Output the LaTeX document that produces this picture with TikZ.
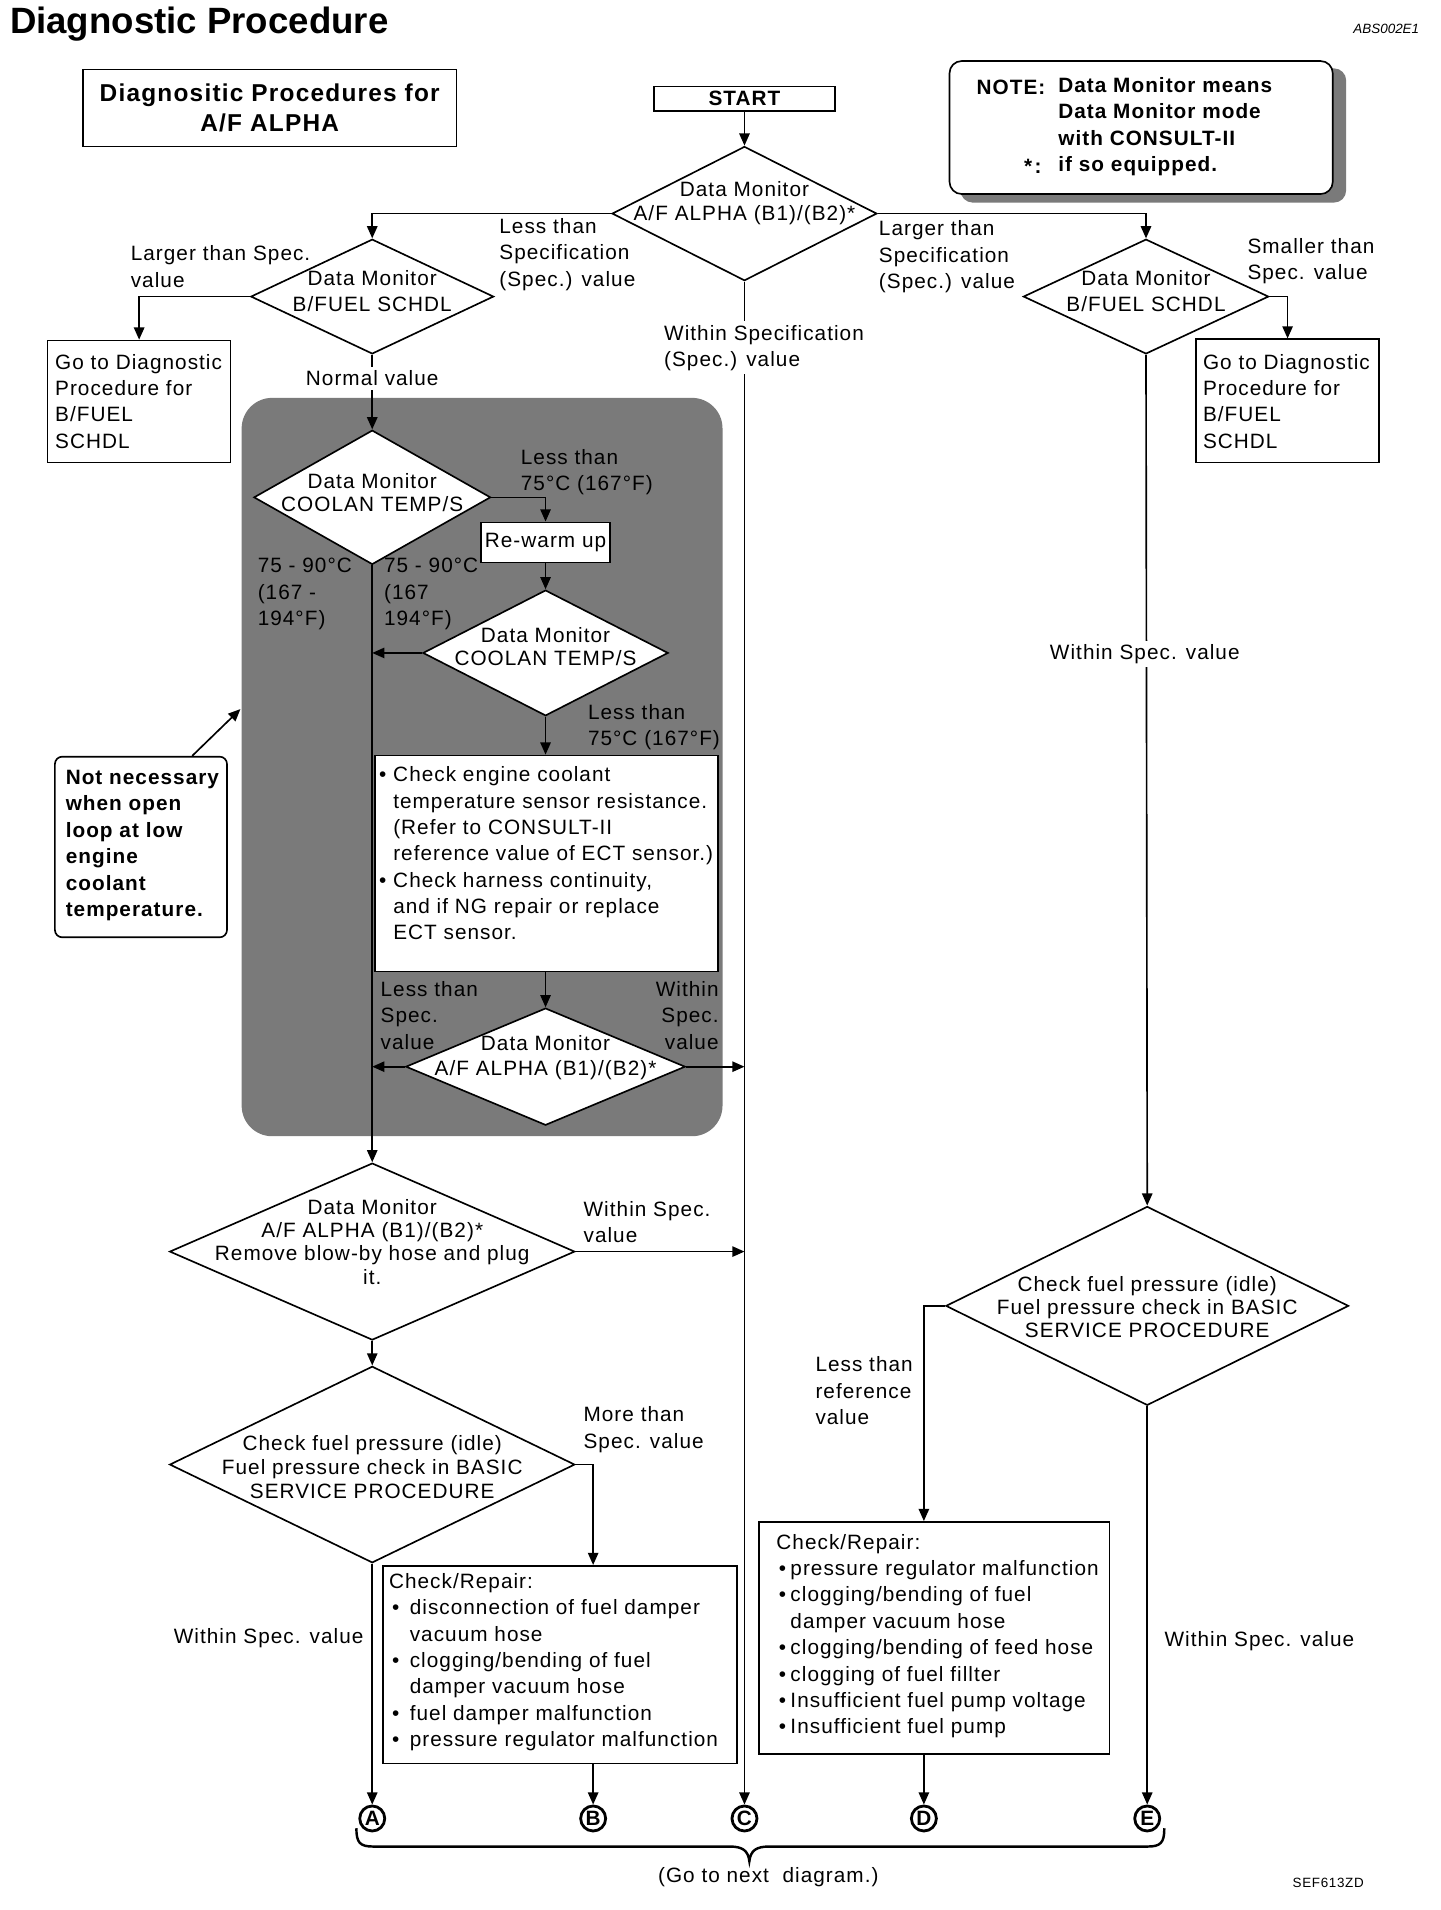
\documentclass[tikz,border=0pt]{standalone}
\usepackage{fontspec}
\setmainfont{Liberation Sans}[LetterSpace=5]
\newfontfamily\plainsans{Liberation Sans}
\usetikzlibrary{arrows.meta,shapes.geometric}
\newcommand\fbody{\fontsize{17}{21.6}\selectfont}
\newcommand\fdia{\fontsize{17}{19.2}\selectfont}
\begin{document}
\begin{tikzpicture}[x=1pt,y=-1pt,
  conn/.style={line width=1.35pt},
  arr/.style={conn,-{Triangle[length=10pt,width=8.5pt]}},
  dia/.style={diamond,draw,line width=1.35pt,fill=white,inner sep=0pt},
  bx/.style={rectangle,draw,line width=1.35pt,fill=white,inner sep=0pt},
  lbl/.style={inner sep=0pt,align=left,font=\fbody,anchor=west},
  dtxt/.style={inner sep=0pt,align=center,font=\fdia},
  circ/.style={circle,draw,line width=2.3pt,minimum size=20.5pt,inner sep=0pt,font=\plainsans\bfseries\fontsize{17}{17}\selectfont},
  hatchfill/.style={fill=black!52}]
\useasboundingbox (0,0) rectangle (1180,1565);
\fill[white] (0,0) rectangle (1180,1565);

% shaded region and note shadow
\fill[hatchfill, rounded corners=25pt] (198,326) rectangle (592,931);
\fill[hatchfill, rounded corners=10pt] (787,56) rectangle (1103,166);

% title
\node[anchor=west, inner sep=0pt, font=\plainsans\bfseries\fontsize{30}{36}\selectfont] (title) at (8,19.5) {Diagnostic Procedure};
\node[anchor=east, inner sep=0pt, font=\plainsans\itshape\fontsize{11}{13}\selectfont] (abs) at (1163,24) {ABS002E1};

\node[bx, minimum width=306pt, minimum height=63pt, align=center, font=\bfseries\fontsize{20}{24.5}\selectfont] (tbox) at (221,88.5) {Diagnositic Procedures for\\A/F ALPHA};
\node[bx, minimum width=148pt, minimum height=20pt, font=\bfseries\fontsize{17}{20}\selectfont] (start) at (610,81) {START};

% note
\node[bx, rounded corners=10pt, minimum width=314pt, minimum height=109pt] (note) at (935,104.5) {};
\node[lbl, font=\bfseries\fbody] (noteh) at (800,71.6) {NOTE:};
\node[lbl, font=\bfseries\fontsize{17}{21.4}\selectfont] (notet) at (867,103.75) {Data Monitor means\\Data Monitor mode\\with CONSULT-II\\if so equipped.};
\node[lbl, font=\bfseries\fbody] (notes) at (839,136) {*\kern2pt:};

% diamonds and boxes
\node[dia, minimum width=217pt, minimum height=110pt] (d1) at (610,175) {};
\node[dtxt] (d1t) at (610,166.5) {Data Monitor\\A/F ALPHA (B1)/(B2)*};
\node[dia, minimum width=199pt, minimum height=94pt] (d2) at (305,243) {};
\node[dtxt, font=\fontsize{17}{21}\selectfont] (d2t) at (305,238.5) {Data Monitor\\B/FUEL SCHDL};
\node[dia, minimum width=201pt, minimum height=94pt] (d3) at (939,243) {};
\node[dtxt, font=\fontsize{17}{21}\selectfont] (d3t) at (939,238.5) {Data Monitor\\B/FUEL SCHDL};

\node[bx, minimum width=150pt, minimum height=100pt] (goL) at (114,329) {};
\node[lbl] (goLt) at (45,328.7) {Go to Diagnostic\\Procedure for\\B/FUEL\\SCHDL};
\node[bx, minimum width=150pt, minimum height=101pt] (goR) at (1055,328.5) {};
\node[lbl] (goRt) at (985.5,328.7) {Go to Diagnostic\\Procedure for\\B/FUEL\\SCHDL};

\node[dia, minimum width=194pt, minimum height=110pt] (d4) at (305,407.5) {};
\node[dtxt] (d4t) at (305,403.5) {Data Monitor\\COOLAN TEMP/S};
\node[bx, minimum width=106pt, minimum height=33pt, font=\fbody] (rw) at (447,444.5) {Re-warm up};
\node[dia, minimum width=201pt, minimum height=103pt] (d5) at (447,535) {};
\node[dtxt] (d5t) at (447,530) {Data Monitor\\COOLAN TEMP/S};
\node[bx, minimum width=281pt, minimum height=177pt] (ect) at (448,707.5) {};
\node[lbl] (ectt) at (310.5,699.2) {•\ Check engine coolant\\
\hphantom{•\ }temperature sensor resistance.\\
\hphantom{•\ }(Refer to CONSULT-II\\
\hphantom{•\ }reference value of ECT sensor.)\\
•\ Check harness continuity,\\
\hphantom{•\ }and if NG repair or replace\\
\hphantom{•\ }ECT sensor.};
\node[dia, minimum width=229pt, minimum height=96pt] (d6) at (447,874) {};
\node[dtxt, font=\fontsize{17}{20.5}\selectfont] (d6t) at (447,866.5) {Data Monitor\\A/F ALPHA (B1)/(B2)*};

\node[dia, minimum width=332pt, minimum height=145pt] (d8) at (305,1025.5) {};
\node[dtxt] (d8t) at (305,1017.5) {Data Monitor\\A/F ALPHA (B1)/(B2)*\\Remove blow-by hose and plug\\it.};
\node[dia, minimum width=332pt, minimum height=161pt] (d9) at (305,1200) {};
\node[dtxt, font=\fontsize{17}{19.8}\selectfont] (d9t) at (305,1202) {Check fuel pressure (idle)\\Fuel pressure check in BASIC\\SERVICE PROCEDURE};
\node[dia, minimum width=330pt, minimum height=163pt] (d7) at (940,1070) {};
\node[dtxt] (d7t) at (940,1071) {Check fuel pressure (idle)\\Fuel pressure check in BASIC\\SERVICE PROCEDURE};

\node[bx, minimum width=290pt, minimum height=162pt] (boxB) at (459,1364) {};
\node[lbl] (boxBt) at (318.6,1362) {Check/Repair:\\
\makebox[17pt][l]{\hspace{2.5pt}•}disconnection of fuel damper\\
\hspace*{17pt}vacuum hose\\
\makebox[17pt][l]{\hspace{2.5pt}•}clogging/bending of fuel\\
\hspace*{17pt}damper vacuum hose\\
\makebox[17pt][l]{\hspace{2.5pt}•}fuel damper malfunction\\
\makebox[17pt][l]{\hspace{2.5pt}•}pressure regulator malfunction};
\node[bx, minimum width=287pt, minimum height=190pt] (boxD) at (765.5,1342) {};
\node[lbl] (boxDt) at (636,1340.6) {Check/Repair:\\
\makebox[11.5pt][l]{\hspace{2pt}•}pressure regulator malfunction\\
\makebox[11.5pt][l]{\hspace{2pt}•}clogging/bending of fuel\\
\hspace*{11.5pt}damper vacuum hose\\
\makebox[11.5pt][l]{\hspace{2pt}•}clogging/bending of feed hose\\
\makebox[11.5pt][l]{\hspace{2pt}•}clogging of fuel fillter\\
\makebox[11.5pt][l]{\hspace{2pt}•}Insufficient fuel pump voltage\\
\makebox[11.5pt][l]{\hspace{2pt}•}Insufficient fuel pump};

\node[bx, rounded corners=6pt, minimum width=141pt, minimum height=148pt] (nn) at (115.5,694) {};
\node[lbl, font=\bfseries\fontsize{17}{21.6}\selectfont] (nnt) at (53.7,692.8) {Not necessary\\when open\\loop at low\\engine\\coolant\\temperature.};

% connectors (circles)
\node[circ] (A) at (305,1490) {A};
\node[circ] (B) at (486,1490) {B};
\node[circ] (C) at (610,1490) {C};
\node[circ] (D) at (757,1490) {D};
\node[circ] (E) at (940,1490) {E};

% connections
\draw[arr] (start.south) -- (d1.north);
\draw[arr] (d1.west) -| (d2.north);
\draw[arr] (d2.west) -| (goL.north);
\draw[arr] (d1.east) -| (d3.north);
\draw[arr] (d3.east) -| (goR.north);
\draw[arr] (d1.south) -- (C.north);
\draw[arr] (d3.south) -- (d7.north);
\draw[arr] (d2.south) -- (d4.north);
\draw[arr] (d4.east) -| (rw.north);
\draw[arr] (rw.south) -- (d5.north);
\draw[arr] (d5.west) -- (d5.west -| d4.south);
\draw[arr] (d5.south) -- (d5.south |- ect.north);
\draw[arr] (d6.north |- ect.south) -- (d6.north);
\draw[arr] (d6.west) -- (d6.west -| d4.south);
\draw[arr] (d6.east) -- (d6.east -| C.north);
\draw[arr] (d4.south) -- (d8.north);
\draw[arr] (d8.east) -- (d8.east -| C.north);
\draw[arr] (d8.south) -- (d9.north);
\draw[arr] (d9.east) -| (B.north |- boxB.north);
\draw[arr] (boxB.south -| B.north) -- (B.north);
\draw[arr] (d9.south) -- (A.north);
\draw[arr] (d7.west) -| (D.north |- boxD.north);
\draw[arr] (boxD.south -| D.north) -- (D.north);
\draw[arr] (d7.south) -- (E.north);
\coordinate (nnend) at (197,581);
\draw[arr] ([xshift=42pt]nn.north) -- (nnend);

% brace
\draw[line width=2pt] (292,1498) .. controls (292,1510) and (295,1513) .. (306,1513) -- (598,1513) .. controls (608,1513) and (613,1516) .. (614,1525) .. controls (615,1516) and (620,1513) .. (630,1513) -- (940,1513) .. controls (951,1513) and (954,1510) .. (954,1498);

% labels
\node[lbl] (l1) at (409,208.5) {Less than\\Specification\\(Spec.) value};
\node[lbl] (l2) at (107,218.3) {Larger than Spec.\\value};
\node[lbl] (l3) at (720,210.5) {Larger than\\Specification\\(Spec.) value};
\node[lbl] (l4) at (1022,214.2) {Smaller than\\Spec. value};
\node[lbl, fill=white, inner ysep=3pt] (l5) at (544,285) {Within Specification\\(Spec.) value};
\node[lbl, anchor=center, fill=white, inner ysep=3pt] (l6) at (305,310) {Normal value};
\node[lbl, anchor=center, fill=white, inner ysep=3pt] (l7) at (938,536) {Within Spec. value};
\node[lbl] (l8) at (426.6,387) {Less than\\75°C (167°F)};
\node[lbl] (l9) at (211,486.8) {75 - 90°C\\(167 -\\194°F)};
\node[lbl] (l10) at (314.5,486.8) {75 - 90°C\\(167\\194°F)};
\node[lbl] (l11) at (481.6,595.8) {Less than\\75°C (167°F)};
\node[lbl] (l12) at (311.7,831.9) {Less than\\Spec.\\value};
\node[lbl, anchor=east, align=right] (l13) at (589,831.9) {Within\\Spec.\\value};
\node[lbl] (l14) at (478,1001.5) {Within Spec.\\value};
\node[lbl] (l15) at (478,1171.5) {More than\\Spec. value};
\node[lbl, anchor=east] (l16) at (298,1342) {Within Spec. value};
\node[lbl] (l17) at (668,1139.5) {Less than\\reference\\value};
\node[lbl] (l18) at (954,1345) {Within Spec. value};
\node[lbl] (l19) at (539,1538) {(Go to next \ diagram.)};
\node[lbl, font=\fontsize{11}{13}\selectfont] (l20) at (1059,1543) {SEF613ZD};
\end{tikzpicture}
\end{document}
